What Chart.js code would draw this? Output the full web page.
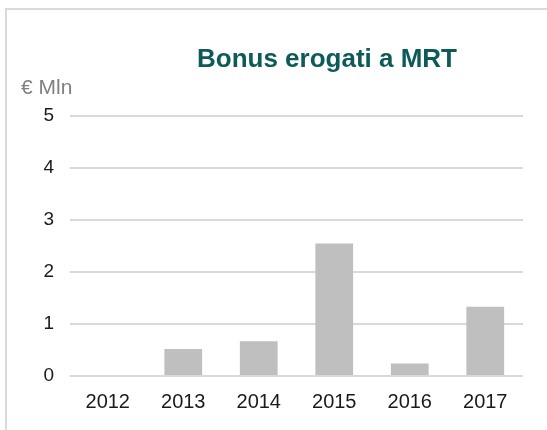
<!DOCTYPE html>
<html>
<head>
<meta charset="utf-8">
<script src="https://cdn.jsdelivr.net/npm/chart.js@4"></script>
<style>
  html, body { margin: 0; padding: 0; background: #fff; overflow: hidden; }
  #frame { position: absolute; left: 5px; top: 8px; width: 700px; height: 600px; border: 2px solid #d9d9d9; box-sizing: border-box; }
  #wrap { position: absolute; left: 0; top: 0; width: 547px; height: 430px; }
</style>
</head>
<body>
<div id="frame"></div>
<div id="wrap"><canvas id="c" width="547" height="430"></canvas></div>
<script>
const titleText = "Bonus erogati a MRT";
const unitLabel = "€ Mln";
const categories = ["2012", "2013", "2014", "2015", "2016", "2017"];
const bonusValues = [0, 0.52, 0.67, 2.55, 0.24, 1.33];

const textPlugin = {
  id: 'textPlugin',
  afterDraw(chart) {
    const ctx = chart.ctx;
    ctx.save();
    ctx.textBaseline = 'middle';
    ctx.textAlign = 'center';
    ctx.fillStyle = '#0d5b58';
    ctx.font = 'bold 26px "Liberation Sans", Arial, sans-serif';
    ctx.fillText(titleText, 327, 60);
    ctx.textAlign = 'left';
    ctx.fillStyle = '#808080';
    ctx.font = '21px "Liberation Sans", Arial, sans-serif';
    ctx.fillText(unitLabel, 21, 88);
    ctx.restore();
  }
};

new Chart(document.getElementById('c'), {
  type: 'bar',
  data: {
    labels: categories,
    datasets: [{
      data: bonusValues,
      backgroundColor: '#bfbfbf',
      borderWidth: 0,
      categoryPercentage: 0.5,
      barPercentage: 1.0
    }]
  },
  options: {
    responsive: false,
    animation: false,
    layout: { padding: { left: 0, right: 24, top: 116, bottom: 16 } },
    plugins: { legend: { display: false }, tooltip: { enabled: false }, title: { display: false } },
    scales: {
      x: {
        grid: { display: false, drawTicks: false },
        border: { display: false },
        ticks: { color: '#1a1a1a', padding: 14, font: { family: '"Liberation Sans", Arial, sans-serif', size: 20 }, maxRotation: 0 },
        afterFit(scale) { scale.height = 38; }
      },
      y: {
        min: 0, max: 5,
        grid: { color: '#d9d9d9', lineWidth: 2, drawTicks: false },
        border: { display: false },
        ticks: { stepSize: 1, color: '#1a1a1a', padding: 16, font: { family: '"Liberation Sans", Arial, sans-serif', size: 19 } },
        afterFit(scale) { scale.width = 70; }
      }
    }
  },
  plugins: [textPlugin]
});
</script>
</body>
</html>
